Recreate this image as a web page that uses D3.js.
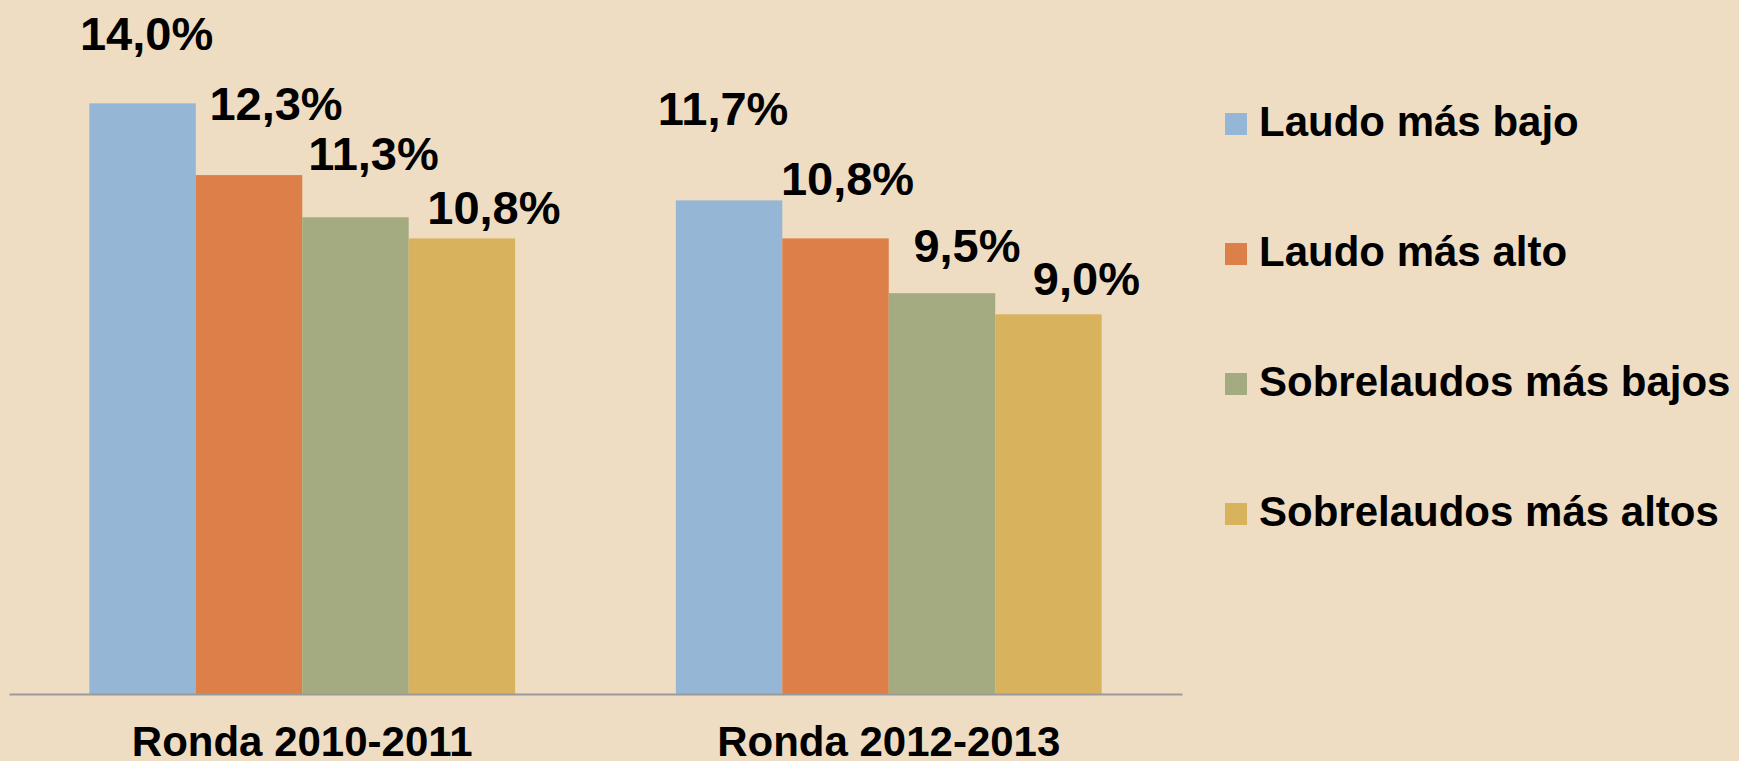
<!DOCTYPE html>
<html>
<head>
<meta charset="utf-8">
<script src="https://cdn.jsdelivr.net/npm/d3@7"></script>
<style>
  html, body { margin: 0; padding: 0; background: #EEDDC3; }
  svg { display: block; font-family: "Liberation Sans", Arial, sans-serif; font-weight: bold; }
</style>
</head>
<body>
<div id="chart-area"></div>
<script>
// Data
const categories = ["Ronda 2010-2011", "Ronda 2012-2013"];
const seriesNames = ["Laudo más bajo", "Laudo más alto", "Sobrelaudos más bajos", "Sobrelaudos más altos"];
const laudoMasBajo = [14.0, 11.7];
const laudoMasAlto = [12.3, 10.8];
const sobrelaudosMasBajos = [11.3, 9.5];
const sobrelaudosMasAltos = [10.8, 9.0];
const seriesValues = [laudoMasBajo, laudoMasAlto, sobrelaudosMasBajos, sobrelaudosMasAltos];

// Hand placed value labels in the original, [dx, dy] from the top centre of each bar
const labelNudge = [
    [[4, -53], [-6, -75]],
    [[27, -55], [12, -43]],
    [[18, -47], [25, -31]],
    [[32, -14], [38, -19]]
];

const colors = ["#95B6D5", "#DD7F48", "#A4AB80", "#D9B25E"];

const width = 1739, height = 761;
const baseline = 694;

const svg = d3.select("#chart-area")
    .append("svg")
    .attr("width", width)
    .attr("height", height);

svg.append("rect")
    .attr("width", width)
    .attr("height", height)
    .attr("fill", "#EEDDC3");

// Scales
const x0 = d3.scaleBand()
    .domain(categories)
    .range([9, 1182])
    .paddingInner(0.274)
    .paddingOuter(0.137);

const x1 = d3.scaleBand()
    .domain(seriesNames)
    .range([0, x0.bandwidth()]);

const y = d3.scaleLinear()
    .domain([0, 16.45])
    .range([baseline, 0]);

const color = d3.scaleOrdinal()
    .domain(seriesNames)
    .range(colors);

const locale = d3.formatLocale({ decimal: ",", thousands: ".", grouping: [3], currency: ["", "€"] });
const fmt = locale.format(".1f");

// Flatten
const bars = [];
seriesNames.forEach((s, si) => {
    categories.forEach((c, ci) => {
        bars.push({ series: s, category: c, value: seriesValues[si][ci], nudge: labelNudge[si][ci] });
    });
});

// Bars
svg.append("g")
    .selectAll("rect")
    .data(bars)
    .enter().append("rect")
    .attr("x", d => x0(d.category) + x1(d.series))
    .attr("y", d => y(d.value))
    .attr("width", x1.bandwidth())
    .attr("height", d => y(0) - y(d.value))
    .attr("fill", d => color(d.series));

// Baseline axis
const xAxis = svg.append("g")
    .attr("transform", `translate(0, ${baseline})`)
    .call(d3.axisBottom(x0).tickSize(0).tickPadding(62));

xAxis.select(".domain")
    .attr("stroke", "#9A9A9A")
    .attr("stroke-width", 2);

xAxis.selectAll("text")
    .attr("fill", "#000")
    .style("font-family", "\"Liberation Sans\", Arial, sans-serif")
    .style("font-weight", "bold")
    .style("font-size", "42px")
    .attr("dy", "0");

// Value labels
svg.append("g")
    .selectAll("text")
    .data(bars)
    .enter().append("text")
    .attr("x", d => x0(d.category) + x1(d.series) + x1.bandwidth() / 2 + d.nudge[0])
    .attr("y", d => y(d.value) + d.nudge[1])
    .attr("text-anchor", "middle")
    .style("font-size", "47px")
    .attr("fill", "#000")
    .text(d => fmt(d.value) + "%");

// Legend
const legend = svg.append("g")
    .attr("transform", "translate(1225, 113)");

const entries = legend.selectAll(".legend-entry")
    .data(seriesNames)
    .enter().append("g")
    .attr("class", "legend-entry")
    .attr("transform", (d, i) => `translate(0, ${i * 130})`);

entries.append("rect")
    .attr("width", 22)
    .attr("height", 22)
    .attr("fill", d => color(d));

entries.append("text")
    .attr("x", 34)
    .attr("y", 23)
    .style("font-size", "42px")
    .attr("fill", "#000")
    .text(d => d);
</script>
</body>
</html>
